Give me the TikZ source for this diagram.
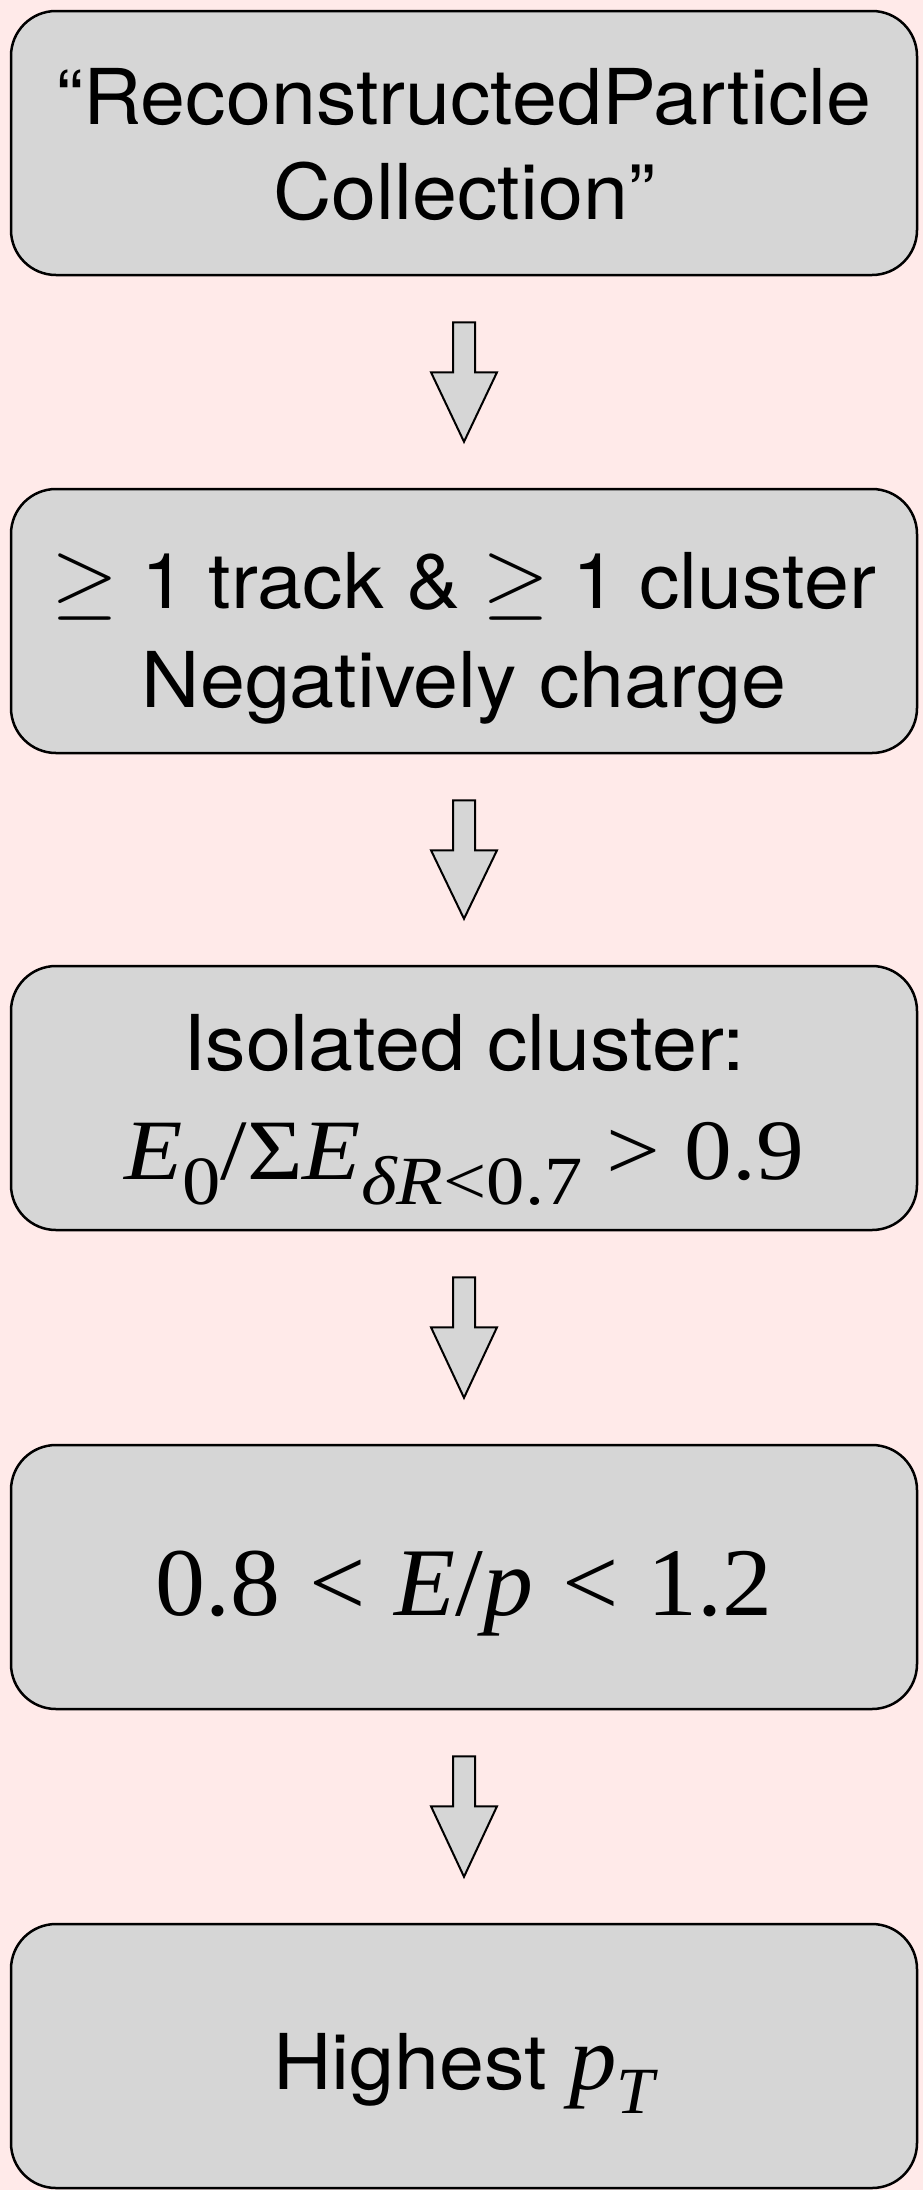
\RequirePackage{fix-cm}
\documentclass[tikz,border=0pt]{standalone}
\usepackage{fontspec}
\setmainfont[FakeStretch=1.05]{TeX Gyre Heros}
\newfontfamily\tmsA[FakeStretch=1.11]{Liberation Serif}
\newfontfamily\tmsB[FakeStretch=1.03]{Liberation Serif}
\usetikzlibrary{calc}
\definecolor{bg}{RGB}{255,234,233}
\definecolor{boxgray}{RGB}{214,214,214}
\newcommand\subsc[3]{\raisebox{-#1}{\fontsize{#2}{#2}\selectfont #3}}
\newcommand\gsym{{\fontsize{86}{86}\selectfont$\geq$}}
\begin{document}
\begin{tikzpicture}[x=1pt,y=-1pt,
  box/.style={draw=black, line width=2.5pt, fill=boxgray, rounded corners=45pt,
    minimum width=906pt, minimum height=264pt, inner sep=0pt},
  txt/.style={anchor=base, inner sep=0pt, font=\fontsize{77}{96}\selectfont},
  blockarrow/.style={draw=black, line width=2pt, fill=boxgray, line join=miter}]
\fill[bg] (0,0) rectangle (923,2190);
\useasboundingbox (0,0) rectangle (923,2190);

\node[box] (b1) at (464,143) {};
\node[box] (b2) at (464,621) {};
\node[box] (b3) at (464,1098) {};
\node[box] (b4) at (464,1577) {};
\node[box] (b5) at (464,2056) {};

\node[txt] (t1a) at ($(b1.center)+(0,-19)$) {“ReconstructedParticle};
\node[txt] (t1b) at ($(b1.center)+(0,76)$) {Collection”};
\node[txt] (t2a) at ($(b2.center)+(0,-13)$) {\gsym\ 1 track \& \gsym\ 1 cluster};
\node[txt] (t2b) at ($(b2.center)+(0,86)$) {Negatively charge};
\node[txt] (t3a) at ($(b3.center)+(0,-28)$) {Isolated cluster:};
\node[txt] (t3b) at ($(b3.center)+(0,81)$) {\fontsize{86}{86}\selectfont\tmsA
  \itshape E\subsc{25pt}{69}{\upshape 0}\upshape/Σ\itshape E\subsc{25pt}{69}{δR\upshape<0.7}\upshape\hspace{0.28em}>\hspace{0.28em}0.9};
\node[txt] (t4) at ($(b4.center)+(0,38)$) {\fontsize{97}{97}\selectfont\tmsB
  0.8\hspace{0.3em}<\hspace{0.3em}\itshape E\upshape/\itshape p\upshape\hspace{0.3em}<\hspace{0.3em}1.2};
\node[txt] (t5) at ($(b5.center)+(0,33)$) {Highest {\tmsB\fontsize{92}{92}\selectfont\itshape p\subsc{24pt}{66}{T}}};

\newcommand\blockarrow[2]{%
  \draw[blockarrow] ($(#1.south)+(-11,46)$) -- ($(#1.south)+(11,46)$)
    -- ($(#1.south)+(11,96)$) -- ($(#1.south)+(33,96)$)
    -- ($(#2.north)+(0,-46)$)
    -- ($(#1.south)+(-33,96)$) -- ($(#1.south)+(-11,96)$) -- cycle;}
\blockarrow{b1}{b2}
\blockarrow{b2}{b3}
\blockarrow{b3}{b4}
\blockarrow{b4}{b5}
\end{tikzpicture}
\end{document}
